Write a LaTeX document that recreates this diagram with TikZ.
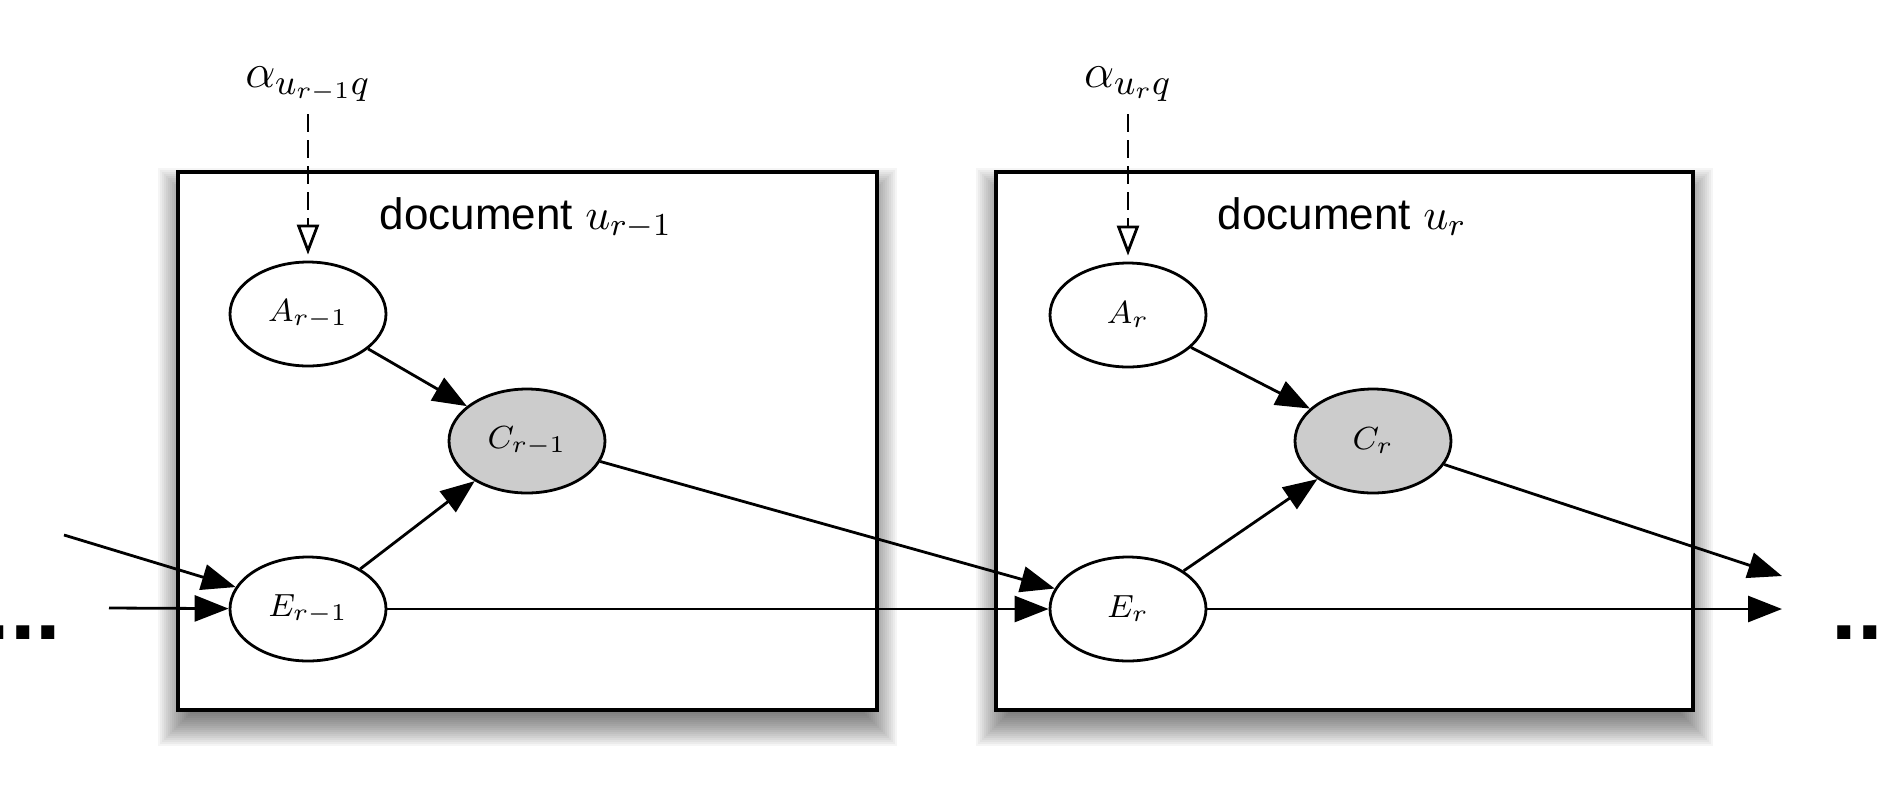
\documentclass[tikz,border=0pt]{standalone}
\usepackage{fontspec}
\newfontfamily\helv{Liberation Sans}
\usetikzlibrary{arrows.meta,shapes.geometric}
\begin{document}
\begin{tikzpicture}[x=0.25pt,y=-0.25pt,
  var/.style={ellipse, draw, line width=0.7pt, minimum width=39pt, minimum height=26pt, inner sep=0pt, fill=white, font=\fontsize{8.5}{10}\selectfont},
  obs/.style={var, fill=black!20},
  plate/.style={draw, line width=0.85pt, fill=white, anchor=north west, inner sep=0pt, outer sep=0pt},
  edge/.style={line width=0.7pt, -{Triangle[length=8.5pt,width=6.5pt]}},
  prior/.style={line width=0.7pt, dash pattern=on 4.5pt off 2pt, -{Triangle[open,length=7.5pt,width=5.5pt]}, shorten >=1.5pt},
  doclabel/.style={anchor=base west, inner sep=0pt, font=\helv\fontsize{11}{13}\selectfont},
  dotsstyle/.style={anchor=base west, inner sep=0pt, font=\helv\bfseries\fontsize{23}{25}\selectfont},
  hyper/.style={font=\fontsize{12.5}{14}\selectfont, inner sep=3pt}
]
\useasboundingbox (0,0) rectangle (1888,784);

% blurred shadows of the two plates
\foreach \xa/\xb in {178/877, 996/1693} {
  \foreach \i in {0,...,20} {
    \pgfmathsetmacro\xl{\xa-20+2*\i}
    \pgfmathsetmacro\xr{\xb+20-2*\i}
    \pgfmathsetmacro\yt{172+16-20+2*\i}
    \pgfmathsetmacro\yb{710+16+20-2*\i}
    \fill[black,opacity=0.04] (\xl,\yt) rectangle (\xr,\yb);
  }
}

% plates
\node[plate, minimum width=174.75pt, minimum height=134.5pt] (p1) at (178,172) {};
\node[plate, minimum width=174.25pt, minimum height=134.5pt] (p2) at (996,172) {};

\node[doclabel] (d1) at (379,229) {document $u_{r-1}$};
\node[doclabel] (d2) at (1217,229) {document $u_r$};

% variables
\node[var] (A1) at (308,314) {$A_{r-1}$};
\node[obs] (C1) at (527,441) {$C_{r-1}$};
\node[var] (E1) at (308,609) {$E_{r-1}$};
\node[var] (A2) at (1128,315) {$A_r$};
\node[obs] (C2) at (1373,441) {$C_r$};
\node[var] (E2) at (1128,609) {$E_r$};

% hyperparameters
\node[hyper] (al1) at (308,84) {$\alpha_{u_{r-1}q}$};
\node[hyper] (al2) at (1128,84) {$\alpha_{u_rq}$};

% ellipsis dots
\node[dotsstyle] (ld) at (-16,639) {...};
\node[dotsstyle] (rd) at (1831,639) {...};

% free ends
\coordinate (in1) at (64,535);
\coordinate (in2) at (109,608);
\coordinate (out1) at (1782,576);
\coordinate (out2) at (1782,609);

% edges
\draw[prior] (al1) -- (A1);
\draw[prior] (al2) -- (A2);
\draw[edge] (A1) -- (C1);
\draw[edge] (E1) -- (C1);
\draw[edge] (in1) -- (E1);
\draw[edge] (in2) -- (E1);
\draw[edge] (C1) -- (E2);
\draw[edge] (E1) -- (E2);
\draw[edge] (A2) -- (C2);
\draw[edge] (E2) -- (C2);
\draw[edge] (C2) -- (out1);
\draw[edge] (E2) -- (out2);
\end{tikzpicture}
\end{document}
